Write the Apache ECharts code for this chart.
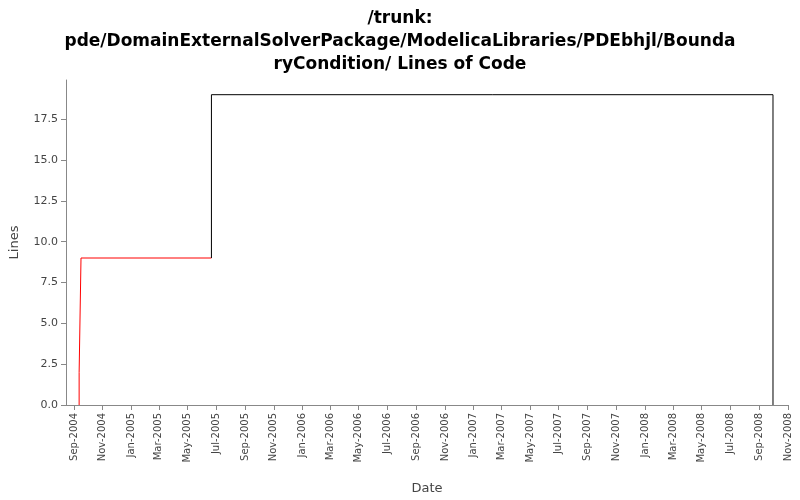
<!DOCTYPE html><html><head><meta charset="utf-8"><script src="https://cdn.jsdelivr.net/npm/echarts@6/dist/echarts.min.js"></script></head><body style="margin:0"><div id="c" style="width:800px;height:500px"></div><script>
const redDates=['2004-09-12','2004-09-12','2004-09-16','2005-06-21'];
const redValues=[0,2,9,9];
const blackDates=['2005-06-21','2005-06-21','2008-09-30','2008-09-30'];
const blackValues=[9,19,19,0];
const tickMonths=['2004-09','2004-11','2005-01','2005-03','2005-05','2005-07','2005-09','2005-11','2006-01','2006-03','2006-05','2006-07','2006-09','2006-11','2007-01','2007-03','2007-05','2007-07','2007-09','2007-11','2008-01','2008-03','2008-05','2008-07','2008-09','2008-11'];
const MN=['Jan','Feb','Mar','Apr','May','Jun','Jul','Aug','Sep','Oct','Nov','Dec'];
const ticks=tickMonths.map(m=>Date.UTC(+m.slice(0,4),+m.slice(5)-1,1));
const ts=d=>Date.UTC(+d.slice(0,4),+d.slice(5,7)-1,+d.slice(8));
const c=echarts.init(document.getElementById('c'));
c.setOption({
 animation:false,
 title:{text:'/trunk:\npde/DomainExternalSolverPackage/ModelicaLibraries/PDEbhjl/Bounda\nryCondition/ Lines of Code',left:'center',top:2,textStyle:{fontFamily:'DejaVu Sans',fontSize:17,fontWeight:'bold',lineHeight:23,color:'#000'}},
 grid:{left:58,right:12,top:80,bottom:95},
 xAxis:{type:'value',min:Date.UTC(2004,7,15),max:Date.UTC(2008,10,1),name:'Date',nameLocation:'middle',nameGap:77,nameTextStyle:{fontFamily:'DejaVu Sans',fontSize:13,color:'#444'},
  axisLine:{lineStyle:{color:'#888'}},splitLine:{show:false},
  axisTick:{customValues:ticks,lineStyle:{color:'#888'}},
  axisLabel:{customValues:ticks,rotate:90,fontFamily:'DejaVu Sans',fontSize:10,color:'#444',formatter:v=>{const d=new Date(v);return MN[d.getUTCMonth()]+'-'+d.getUTCFullYear();}}},
 yAxis:{type:'value',min:0,max:19.9,interval:2.5,name:'Lines',nameLocation:'middle',nameGap:45,nameTextStyle:{fontFamily:'DejaVu Sans',fontSize:13,color:'#444'},
  axisLine:{show:true,lineStyle:{color:'#888'}},axisTick:{show:true,lineStyle:{color:'#888'}},splitLine:{show:false},
  axisLabel:{showMaxLabel:false,fontFamily:'DejaVu Sans',fontSize:11,color:'#444',formatter:v=>v.toFixed(1)}},
 series:[
  {type:'line',step:'end',symbol:'none',lineStyle:{color:'#ff0000',width:1},data:redDates.map((d,i)=>[ts(d),redValues[i]])},
  {type:'line',step:'end',symbol:'none',lineStyle:{color:'#000',width:1},data:blackDates.map((d,i)=>[ts(d),blackValues[i]])}
 ]
});
</script></body></html>
